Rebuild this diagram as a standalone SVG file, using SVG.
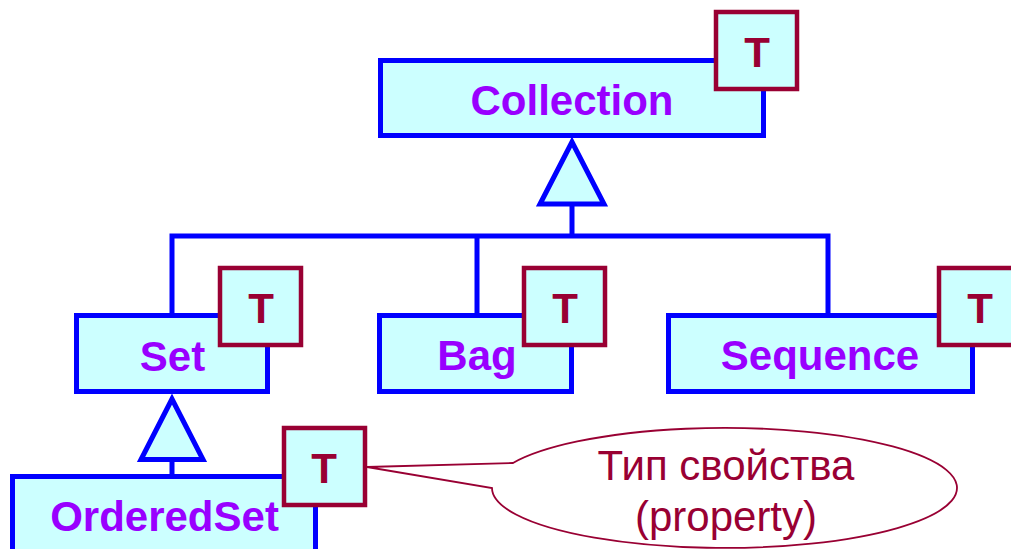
<svg xmlns="http://www.w3.org/2000/svg" width="1011" height="549" viewBox="0 0 1011 549">
<style>
.box{fill:#CCFFFF;stroke:#0000FF;stroke-width:5}
.tbox{fill:#CCFFFF;stroke:#990033;stroke-width:4.5}
.lbl{font-family:"Liberation Sans",Arial,sans-serif;font-weight:bold;font-size:42px;fill:#9900FF;text-anchor:middle}
.t{font-family:"Liberation Sans",Arial,sans-serif;font-weight:bold;font-size:42px;fill:#990033;text-anchor:middle}
.conn{fill:none;stroke:#0000FF;stroke-width:5}
.tri{fill:#CCFFFF;stroke:#0000FF;stroke-width:5;stroke-linejoin:miter}
.note{font-family:"Liberation Sans",Arial,sans-serif;font-size:42px;fill:#990033;text-anchor:middle}
</style>
<rect width="1011" height="549" fill="#FFFFFF"/>
<g id="connectors">
<path class="conn" d="M572,204 V236 M169.5,236 H830.5 M172,236 V316 M477,236 V316 M828,236 V316 M172,459 V477"/>
<polygon class="tri" points="572,142 540,204 604,204"/>
<polygon class="tri" points="172,399 141,459.5 203,459.5"/>
</g>
<g id="collection">
<rect class="box" x="380.5" y="60.5" width="383" height="75"/>
<text class="lbl" x="572" y="115">Collection</text>
<rect class="tbox" x="716" y="12" width="81" height="77"/>
<text class="t" x="757" y="67">T</text>
</g>
<g id="set">
<rect class="box" x="76.5" y="315.5" width="191" height="76"/>
<text class="lbl" x="172.5" y="371">Set</text>
<rect class="tbox" x="220" y="268" width="81" height="77"/>
<text class="t" x="261" y="323">T</text>
</g>
<g id="bag">
<rect class="box" x="379.5" y="315.5" width="192" height="76"/>
<text class="lbl" x="477" y="370">Bag</text>
<rect class="tbox" x="524" y="268" width="81" height="77"/>
<text class="t" x="565" y="323">T</text>
</g>
<g id="sequence">
<rect class="box" x="668.5" y="315.5" width="304" height="76"/>
<text class="lbl" x="820" y="370">Sequence</text>
<rect class="tbox" x="939" y="268" width="81" height="77"/>
<text class="t" x="980" y="323">T</text>
</g>
<g id="orderedset">
<rect class="box" x="12.5" y="476.5" width="303" height="100"/>
<text class="lbl" x="164.5" y="531">OrderedSet</text>
<rect class="tbox" x="284" y="428" width="81" height="77"/>
<text class="t" x="324" y="483">T</text>
</g>
<g id="note">
<path d="M513,463 L367,467 L492,488 A232.5,60 0 1 0 513,463 Z" fill="#FFFFFF" stroke="#990033" stroke-width="1.8"/>
<text class="note" x="726" y="480">Тип свойства</text>
<text class="note" x="726" y="531">(property)</text>
</g>
</svg>
